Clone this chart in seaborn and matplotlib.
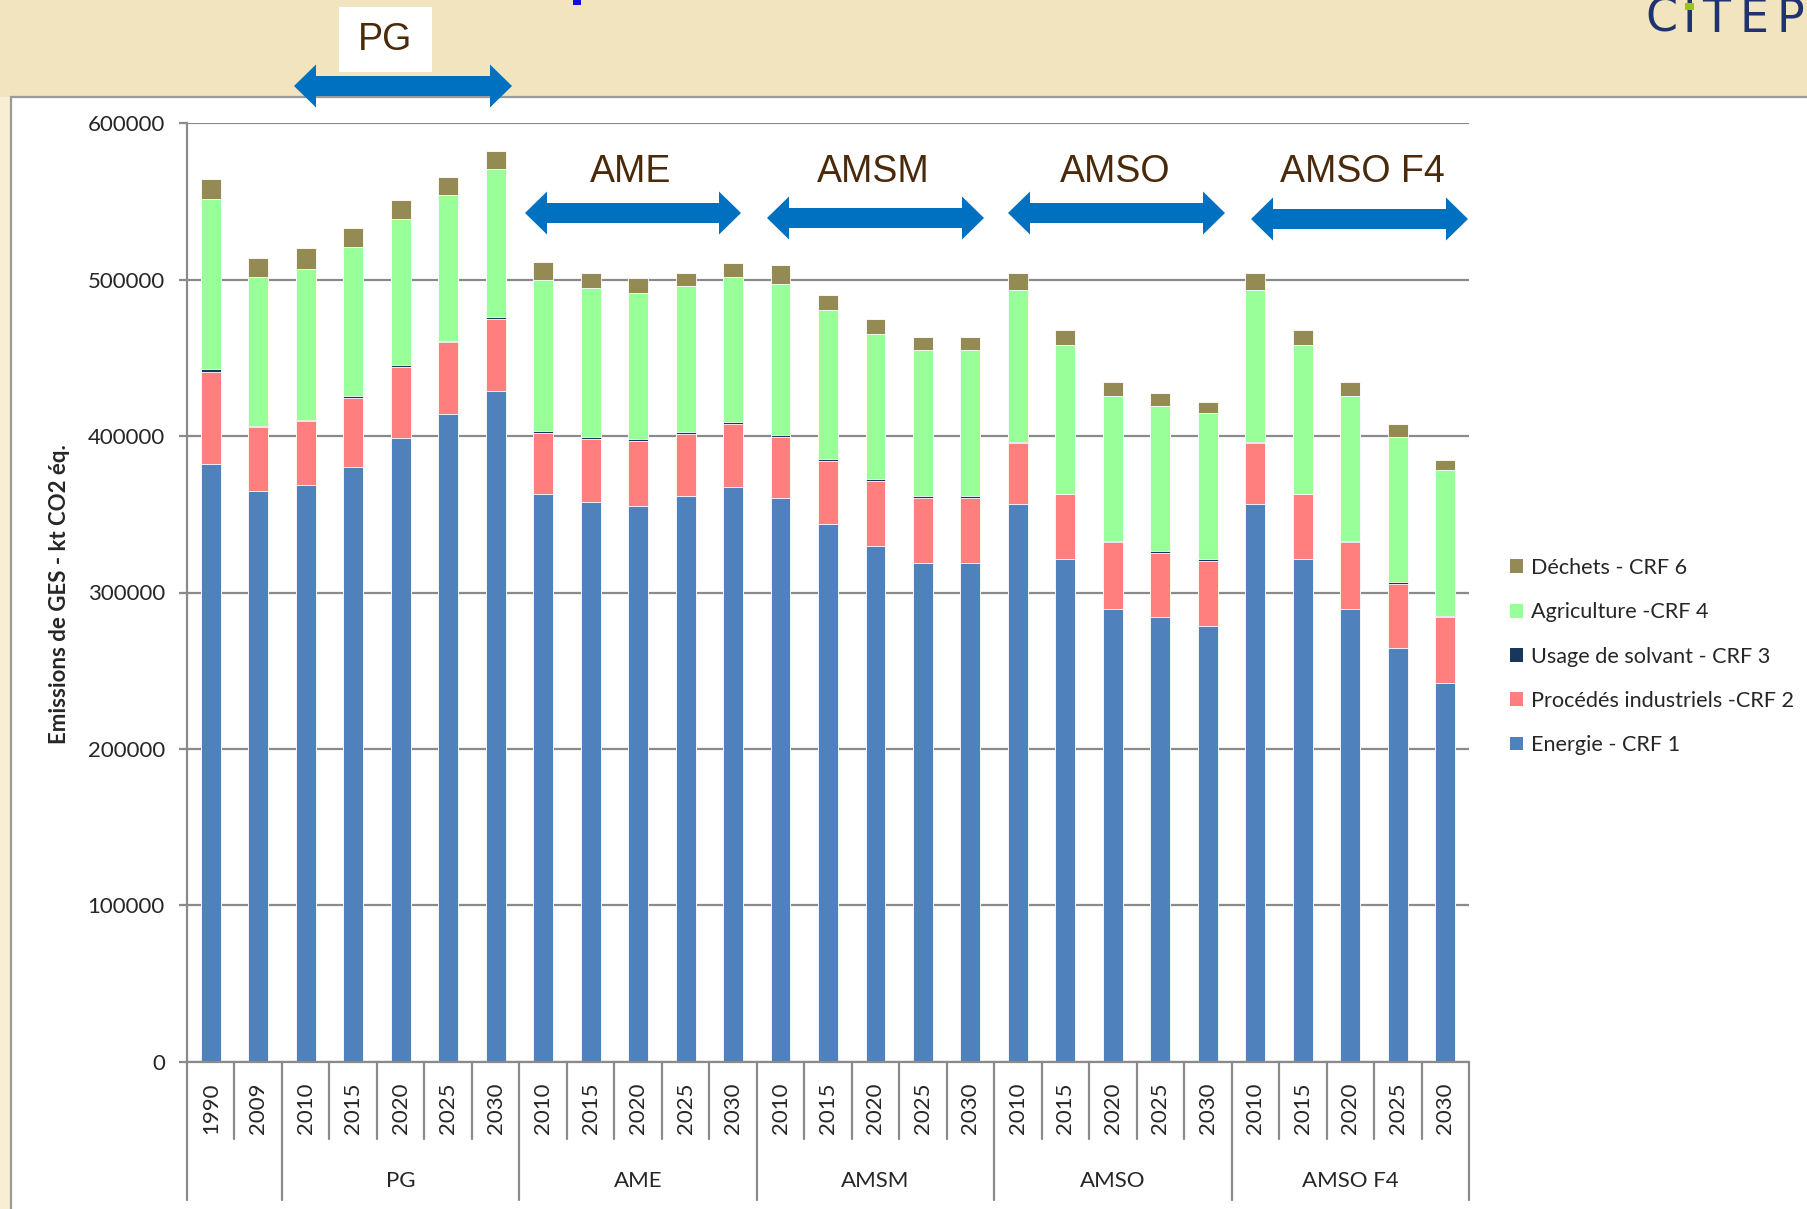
import numpy as np
import pandas as pd
import seaborn as sns
import matplotlib
matplotlib.use("Agg")
import matplotlib.pyplot as plt
from matplotlib.patches import Rectangle, Polygon, Patch

# ---------------- data ----------------
years = ["1990", "2009"] + ["2010", "2015", "2020", "2025", "2030"] * 5
groups = ["PG", "AME", "AMSM", "AMSO", "AMSO F4"]
legend_labels = ["Déchets - CRF 6", "Agriculture -CRF 4", "Usage de solvant - CRF 3",
                 "Procédés industriels -CRF 2", "Energie - CRF 1"]

energie = [382000, 365000, 369000, 380500, 398500, 414000, 429000,
           362700, 357800, 355300, 361500, 367200,
           360400, 343600, 329700, 318900, 318900,
           356800, 321200, 289300, 284200, 278300,
           356800, 321200, 289300, 264300, 242200]
procedes = [59000, 40500, 40400, 44000, 46000, 46000, 46000,
            39000, 40100, 41300, 40000, 40300,
            39000, 40400, 41500, 41300, 41300,
            39000, 41500, 42800, 41300, 42000,
            39000, 41500, 42800, 41300, 42000]
solvant = [2000, 1000, 1000, 1100, 1000, 600, 1300,
           1300, 1300, 1300, 1100, 1300,
           1000, 1100, 1100, 1300, 1300,
           300, 300, 1000, 1000, 1000,
           300, 300, 1000, 1000, 1000]
agriculture = [108700, 95500, 96400, 95500, 93400, 93300, 94200,
               96700, 95800, 93300, 93200, 93200,
               96700, 95700, 93100, 93300, 93300,
               97600, 95100, 92300, 92900, 93400,
               97600, 95100, 92300, 92600, 92900]
dechets = [12800, 12000, 13200, 11900, 11900, 12000, 11900,
           11900, 9400, 9600, 8600, 8400,
           12000, 9600, 9400, 8300, 8300,
           10700, 9900, 9400, 8100, 6800,
           10700, 9900, 9400, 8300, 6800]

colors = {"dech": "#948A54", "agri": "#99FF99", "solv": "#17375E",
          "proc": "#FF7F7F", "ener": "#4F81BD"}

# ---------------- figure ----------------
sns.set_style("white")
plt.rcParams["font.family"] = ["Lato", "DejaVu Sans"]

W, H = 1808, 1209
fig = plt.figure(figsize=(W / 100, H / 100), dpi=100, facecolor="#F2E4BE")

def fx(x):
    return x / W

def fy(y):
    return 1 - y / H

# white panel (behind the axes)
fig.patches.append(Rectangle((fx(0), fy(H)), fx(11), 1 - 97 / H, transform=fig.transFigure,
                             facecolor="#F8EED3", edgecolor="none", zorder=-3))
fig.patches.append(Rectangle((fx(11), fy(H + 5)), 1.0, (H + 5 - 97) / H, transform=fig.transFigure,
                             facecolor="white", edgecolor="#9A9A9A", linewidth=1.6, zorder=-2))

ax = fig.add_axes([fx(187), fy(1061.7), (1469 - 187) / W, (1061.7 - 123.3) / H])
ax.set_facecolor("none")
ax.set_zorder(1)

keys = [f"{i:02d}" for i in range(len(years))]
E = np.array(energie)
P = E + np.array(procedes)
S = P + np.array(solvant)
A = S + np.array(agriculture)
D = A + np.array(dechets)
df = pd.DataFrame({"key": keys, "D": D, "A": A, "S": S, "P": P, "E": E})

for col, c in [("D", colors["dech"]), ("A", colors["agri"]), ("S", colors["solv"]),
               ("P", colors["proc"]), ("E", colors["ener"])]:
    sns.barplot(data=df, x="key", y=col, order=keys, color=c, width=0.42,
                saturation=1, errorbar=None, edgecolor="white", linewidth=0.6, ax=ax)

ax.set_xlim(-0.5, len(keys) - 0.5)
ax.set_ylim(0, 600000)
ax.set_yticks(np.arange(0, 600001, 100000))
ax.set_yticklabels([str(v) for v in range(0, 600001, 100000)])
ax.yaxis.grid(True, color="#8A8A8A", linewidth=1.6)
ax.xaxis.grid(False)
ax.set_axisbelow(True)
for s in ["top", "right"]:
    ax.spines[s].set_visible(False)
for s in ["left", "bottom"]:
    ax.spines[s].set_color("#8A8A8A")
    ax.spines[s].set_linewidth(1.6)
ax.set_xlabel("")
ax.set_ylabel("")
ax.tick_params(axis="y", length=6, width=1.6, color="#8A8A8A", labelsize=16, pad=10, left=True)
ax.set_xticks(range(len(keys)))
ax.set_xticklabels(years, rotation=90, fontsize=16, va="top", ha="center")
ax.tick_params(axis="x", length=0, pad=15)

# category separators
trans = ax.get_xaxis_transform()
long_pos = [-0.5, 1.5, 6.5, 11.5, 16.5, 21.5, 26.5]
for i in range(len(keys) + 1):
    x = i - 0.5
    y1 = -0.1474 if x in long_pos else -0.0824
    ax.plot([x, x], [0, y1], transform=trans, color="#8A8A8A", lw=1.6, clip_on=False)

group_centers = [4, 9, 14, 19, 24]
for g, c in zip(groups, group_centers):
    ax.text(c, -0.1271, g, transform=trans, ha="center", va="center", fontsize=16)

# y label
fig.text(fx(60), fy(594), "Emissions de GES - kt CO2 éq.", rotation=90, fontsize=16,
         fontweight="bold", ha="center", va="center")

# legend
handles = [Patch(facecolor=colors[k], edgecolor="none") for k in ["dech", "agri", "solv", "proc", "ener"]]
ax.legend(handles, legend_labels, loc="upper left", bbox_to_anchor=(fx(1510), fy(558)),
          bbox_transform=fig.transFigure, frameon=False, fontsize=15.6,
          handlelength=0.6, handleheight=0.6, handletextpad=0.35, labelspacing=1.12,
          borderaxespad=0, borderpad=0)

# double arrows
def dbl_arrow(x0, x1, yc, hl=22, hw=21.5, st=10, color="#0070C0"):
    pts = [(x0, yc), (x0 + hl, yc - hw), (x0 + hl, yc - st), (x1 - hl, yc - st),
           (x1 - hl, yc - hw), (x1, yc), (x1 - hl, yc + hw), (x1 - hl, yc + st),
           (x0 + hl, yc + st), (x0 + hl, yc + hw)]
    fig.patches.append(Polygon([(fx(x), fy(y)) for x, y in pts], closed=True,
                               transform=fig.transFigure, facecolor=color,
                               edgecolor="none", zorder=5))

arrow_spans = [(294, 512, 86), (525, 741, 213), (767, 984, 218), (1008, 1225, 213), (1251, 1468, 219)]
for x0, x1, yc in arrow_spans:
    dbl_arrow(x0, x1, yc)

label_pos = [(631, 172), (873, 172), (1115, 172), (1362, 172)]
for g, (x, y) in zip(groups[1:], label_pos):
    fig.text(fx(x), fy(y), g, ha="center", va="center", fontsize=27,
             color="#4A2A0A", family=["Liberation Sans", "DejaVu Sans"], zorder=6)

# PG label in white box
fig.patches.append(Rectangle((fx(339), fy(72)), (432 - 339) / W, (72 - 7) / H,
                             transform=fig.transFigure, facecolor="white",
                             edgecolor="none", zorder=4))
fig.text(fx(385), fy(40), "PG", ha="center", va="center", fontsize=27,
         color="#4A2A0A", family=["Liberation Sans", "DejaVu Sans"], zorder=6)

# small blue fragment of a title at the top
fig.patches.append(Rectangle((fx(573), fy(5)), 8 / W, 5 / H, transform=fig.transFigure,
                             facecolor="#1010E0", edgecolor="none"))

# CITEP logo
for ch, x in [("C", 1661), ("I", 1689), ("T", 1716), ("E", 1754), ("P", 1790)]:
    fig.text(fx(x), fy(19), ch, ha="center", va="center", fontsize=33,
             color="#1F3370", family=["DejaVu Sans"], zorder=6)
fig.patches.append(Rectangle((fx(1685), fy(10)), 9 / W, 7 / H, transform=fig.transFigure,
                             facecolor="#9BC31C", edgecolor="none", zorder=7))

fig.savefig("out.png", dpi=100, facecolor=fig.get_facecolor())
